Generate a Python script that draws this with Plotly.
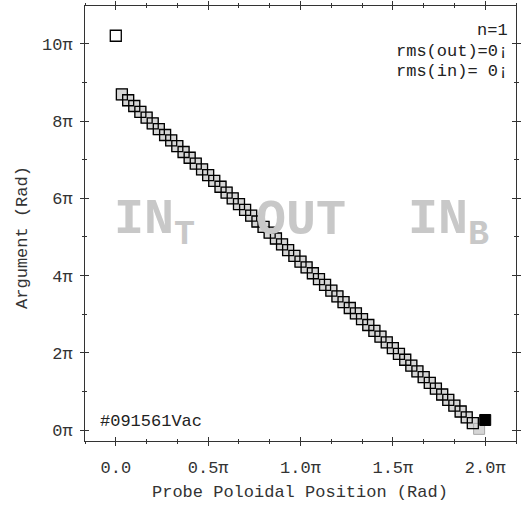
import plotly.graph_objects as go

# Probe poloidal position and argument, both in units of pi
x_in = [0.033, 0.067, 0.100, 0.133, 0.167, 0.200, 0.233, 0.267, 0.300, 0.333,
        0.367, 0.400, 0.433, 0.467, 0.500, 0.533, 0.567, 0.600, 0.633, 0.667,
        0.700, 0.733, 0.767, 0.800, 0.833, 0.867, 0.900, 0.933, 0.967, 1.000,
        1.033, 1.067, 1.100, 1.133, 1.167, 1.200, 1.233, 1.267, 1.300, 1.333,
        1.367, 1.400, 1.433, 1.467, 1.500, 1.533, 1.567, 1.600, 1.633, 1.667,
        1.700, 1.733, 1.767, 1.800, 1.833, 1.867, 1.900, 1.933, 1.967]
y_in = [8.69, 8.54, 8.39, 8.24, 8.09, 7.94, 7.79, 7.64, 7.50, 7.35,
        7.20, 7.05, 6.90, 6.75, 6.60, 6.45, 6.30, 6.15, 6.00, 5.85,
        5.70, 5.55, 5.40, 5.26, 5.11, 4.96, 4.81, 4.66, 4.51, 4.36,
        4.21, 4.06, 3.91, 3.76, 3.61, 3.46, 3.31, 3.16, 3.02, 2.87,
        2.72, 2.57, 2.42, 2.27, 2.12, 1.97, 1.82, 1.67, 1.52, 1.37,
        1.22, 1.07, 0.92, 0.78, 0.63, 0.48, 0.33, 0.18, 0.03]
x_out = x_in[:58]
y_out = y_in[:58]
x_first, y_first = [0.0], [10.21]
x_last, y_last = [2.0], [0.26]

x_tickvals = [0, 0.5, 1.0, 1.5, 2.0]
x_ticktext = ["0.0", "0.5π", "1.0π", "1.5π", "2.0π"]
y_tickvals = [0, 2, 4, 6, 8, 10]
y_ticktext = ["0π", "2π", "4π", "6π", "8π", "10π"]

X_RANGE = [-1 / 6, 13 / 6]
Y_RANGE = [-0.284, 10.98]

MONO = "Liberation Mono, Courier New, monospace"
AXC = "#333333"
FS = 17

fig = go.Figure()
fig.add_trace(go.Scatter(
    x=x_in, y=y_in, mode="markers", showlegend=False,
    marker=dict(symbol="square", size=11, color="#d6d6d6",
                line=dict(color="#a8a8a8", width=1))))
fig.add_trace(go.Scatter(
    x=x_out, y=y_out, mode="markers", showlegend=False,
    marker=dict(symbol="square-open", size=11, color="#000000",
                line=dict(color="#000000", width=1.3))))
fig.add_trace(go.Scatter(
    x=x_first, y=y_first, mode="markers", showlegend=False,
    marker=dict(symbol="square", size=11, color="#ffffff",
                line=dict(color="#000000", width=1.3))))
fig.add_trace(go.Scatter(
    x=x_last, y=y_last, mode="markers", showlegend=False,
    marker=dict(symbol="square", size=11, color="#000000",
                line=dict(color="#000000", width=1))))
# invisible point on the overlay axes, which carry the inward ticks
fig.add_trace(go.Scatter(x=[1.0], y=[5.0], xaxis="x2", yaxis="y2",
                         mode="markers", marker=dict(size=1, opacity=0),
                         showlegend=False, hoverinfo="skip"))

axis_common = dict(showgrid=False, zeroline=False, ticklen=4, tickwidth=1,
                   tickcolor=AXC)

fig.update_layout(
    width=522, height=507,
    margin=dict(l=85, r=1, t=5, b=66),
    paper_bgcolor="white", plot_bgcolor="white",
    font=dict(family=MONO, size=FS, color=AXC),
    xaxis=dict(range=X_RANGE, tickvals=x_tickvals, ticktext=x_ticktext,
               ticks="outside", showline=True, linecolor=AXC, linewidth=1,
               mirror="ticks", ticklabelstandoff=7,
               minor=dict(tick0=0, dtick=1 / 6, ticks="outside", ticklen=2,
                          tickcolor=AXC),
               tickfont=dict(family=MONO, size=FS, color=AXC),
               **axis_common),
    yaxis=dict(range=Y_RANGE, tickvals=y_tickvals, ticktext=y_ticktext,
               ticks="outside", showline=True, linecolor=AXC, linewidth=1,
               mirror="ticks", ticklabelstandoff=4,
               minor=dict(tick0=0, dtick=1, ticks="outside", ticklen=2,
                          tickcolor=AXC),
               tickfont=dict(family=MONO, size=FS, color=AXC),
               **axis_common),
    xaxis2=dict(range=X_RANGE, overlaying="x", side="bottom",
                tickvals=x_tickvals, ticks="inside", showticklabels=False,
                mirror="ticks", showline=False,
                minor=dict(tick0=0, dtick=1 / 6, ticks="inside", ticklen=2,
                           tickcolor=AXC),
                **axis_common),
    yaxis2=dict(range=Y_RANGE, overlaying="y", side="left",
                tickvals=y_tickvals, ticks="inside", showticklabels=False,
                mirror="ticks", showline=False,
                minor=dict(tick0=0, dtick=1, ticks="inside", ticklen=2,
                           tickcolor=AXC),
                **axis_common),
)

annotations = [
    dict(text="Probe Poloidal Position (Rad)", xref="paper", yref="paper",
         x=0.498, y=-0.118, xanchor="center", yanchor="middle",
         showarrow=False, font=dict(family=MONO, size=FS, color=AXC)),
    dict(text="Argument (Rad)", xref="paper", yref="paper",
         x=-0.145, y=0.468, xanchor="center", yanchor="middle",
         textangle=-90, showarrow=False,
         font=dict(family=MONO, size=FS, color=AXC)),
    dict(text="n=1", xref="paper", yref="paper", x=0.985, y=0.943,
         xanchor="right", yanchor="middle", showarrow=False,
         font=dict(family=MONO, size=FS, color="#222222")),
    dict(text="rms(out)=0¡", xref="paper", yref="paper", x=0.985, y=0.896,
         xanchor="right", yanchor="middle", showarrow=False,
         font=dict(family=MONO, size=FS, color="#222222")),
    dict(text="rms(in)= 0¡", xref="paper", yref="paper", x=0.985, y=0.849,
         xanchor="right", yanchor="middle", showarrow=False,
         font=dict(family=MONO, size=FS, color="#222222")),
    dict(text="#091561Vac", xref="paper", yref="paper", x=0.030, y=0.044,
         xanchor="left", yanchor="middle", showarrow=False,
         font=dict(family=MONO, size=FS, color="#222222")),
    dict(text="<b>IN<sub>T</sub></b>", x=-0.02, y=5.35, xanchor="left",
         yanchor="middle", showarrow=False,
         font=dict(family=MONO, size=50, color="#c8c8c8")),
    dict(text="<b>OUT</b>", x=1.0, y=5.43, xanchor="center",
         yanchor="middle", showarrow=False,
         font=dict(family=MONO, size=50, color="#c8c8c8")),
    dict(text="<b>IN<sub>B</sub></b>", x=2.03, y=5.35, xanchor="right",
         yanchor="middle", showarrow=False,
         font=dict(family=MONO, size=50, color="#c8c8c8")),
]
fig.update_layout(annotations=annotations)

fig.write_html("out.html")
